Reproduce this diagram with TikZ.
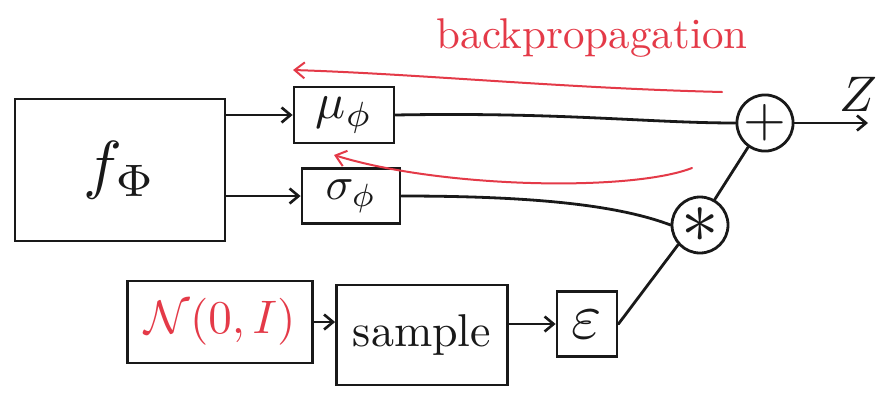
\documentclass[tikz,border=0pt]{standalone}
\usepackage{graphicx}
\usetikzlibrary{arrows.meta}
\definecolor{penred}{RGB}{228,58,72}
\definecolor{ink}{RGB}{25,25,25}
\newcommand{\mysc}[2]{\scalebox{#1}{$#2$}}
\newcommand{\mytx}[2]{\scalebox{#1}{#2}}
\begin{document}
\begin{tikzpicture}[x=1pt,y=-1pt,
  ink/.style={draw=ink,line width=2.8pt},
  blk/.style={ink,rectangle,inner sep=0pt,text=ink},
  op/.style={ink,circle,inner sep=0pt,minimum size=54pt,text=ink},
  conn/.style={ink,line cap=round},
  arr/.style={conn,-{Straight Barb[length=9pt,width=15pt,line width=2.6pt]}},
  bp/.style={draw=penred,line width=2pt,line cap=round,-{Straight Barb[length=10pt,width=16pt,line width=2pt]}}
]
\fill[white] (0,0) rectangle (890,394);
\useasboundingbox (0,0) rectangle (890,394);

\node[blk,minimum width=210pt,minimum height=142pt] (f) at (120,170) {\mysc{6.5}{f_{\Phi}}};
\node[blk,minimum width=100pt,minimum height=56pt] (mu) at (344,115) {\mysc{5}{\mu_{\phi}}};
\node[blk,minimum width=98pt,minimum height=55pt] (sig) at (351,196) {\mysc{4.6}{\sigma_{\phi}}};
\node[op] (plus) at (765,123) {\mysc{5.5}{+}};
\node[op,minimum size=56pt] (star) at (700,225) {\mysc{7.5}{\ast}};
\node[blk,minimum width=185pt,minimum height=82pt,text=penred] (N) at (220,322) {\mysc{4.7}{\mathcal{N}(0,I)}};
\node[blk,minimum width=171pt,minimum height=100pt] (samp) at (422,335) {\mytx{4.6}{sample}};
\node[blk,minimum width=60pt,minimum height=65pt] (eps) at (587,324) {\mysc{6.5}{\varepsilon}};
\node[text=ink] (Z) at (858,94) {\mysc{5}{Z}};
\node[text=penred] (bpt) at (592,38) {\mytx{4.3}{backpropagation}};
\coordinate (zend) at (868,123);

\draw[arr] (f.east |- mu.west) -- (mu.west);
\draw[arr] (f.east |- sig.west) -- (sig.west);
\draw[conn] (mu.east) .. controls (560,112) and (650,123) .. (plus.west);
\draw[conn] (sig.east) .. controls (540,196) and (620,206) .. (star.west);
\draw[conn] (star.60) -- (plus.235);
\draw[conn] (eps.east) -- (star.222);
\draw[arr] (plus.east) -- (zend);
\draw[arr] (N.east) -- (samp.west |- N.east);
\draw[arr] (samp.east |- eps.west) -- (eps.west);

\coordinate (r1s) at (722,92);
\coordinate (r1e) at (293,70);
\coordinate (r2s) at (692,168);
\coordinate (r2e) at (334,155);
\draw[bp] (r1s) .. controls (560,88) and (420,74) .. (r1e);
\draw[bp] (r2s) .. controls (630,192) and (440,188) .. (r2e);
\end{tikzpicture}
\end{document}
